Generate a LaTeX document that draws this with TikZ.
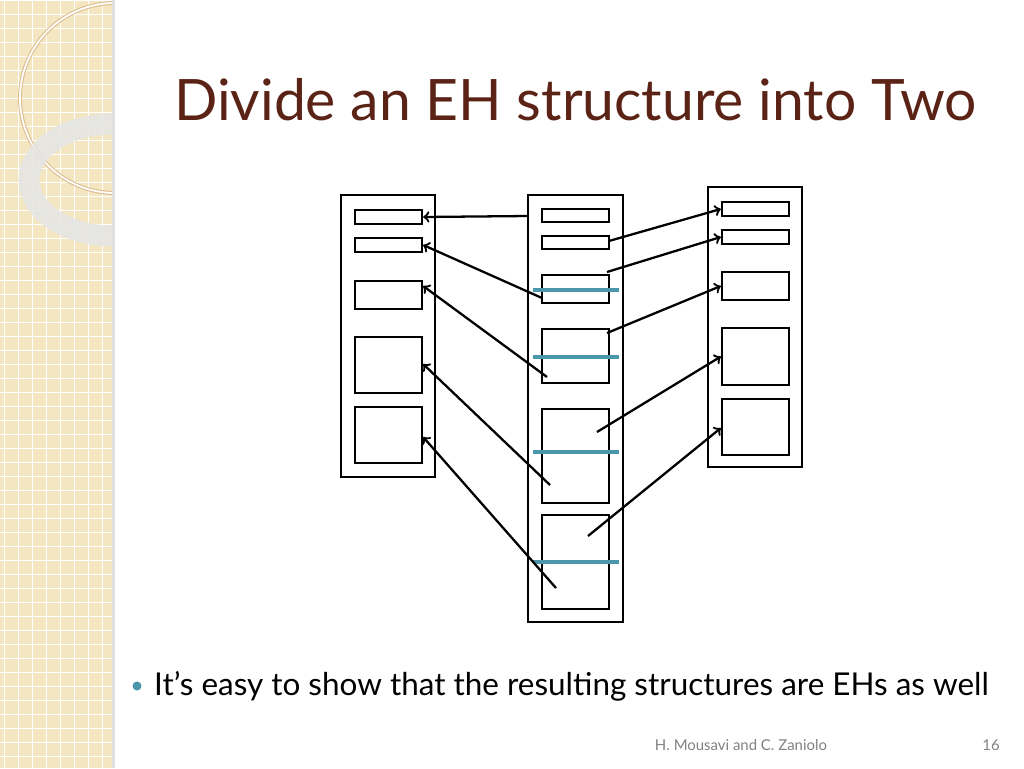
\documentclass[tikz,border=0pt]{standalone}
\usepackage{fontspec}
\setmainfont{Lato}
\usetikzlibrary{calc}
\definecolor{titlebrown}{HTML}{5B2316}
\definecolor{beige}{HTML}{F3E6C0}
\definecolor{teal}{HTML}{4A96AA}
\tikzset{
  outerbox/.style={draw, line width=1.5pt, inner sep=0pt},
  bucket/.style={draw, line width=1.3pt, inner sep=0pt},
  link/.style={->, line width=1.3pt, >=to},
  split/.style={teal, line width=1.8pt}
}
% box from pixel corners
\newcommand{\pbox}[6]{\node[#1, minimum width={(#5-#3)*0.02cm}, minimum height={(#6-#4)*0.02cm}] (#2) at ({(#3+#5)/2},{(#4+#6)/2}) {};}
\begin{document}
\begin{tikzpicture}[x=0.02cm, y=-0.02cm]
    \useasboundingbox (0,0) rectangle (1024,768);
    % background strip
    \fill[beige] (0,0) rectangle (113,768);
    \foreach \k in {0,...,8} \draw[white, line width=0.5pt] (\k*14+4,0) -- (\k*14+4,768);
    \foreach \k in {0,...,55} \draw[white, line width=0.5pt] (0,\k*14) -- (113,\k*14);
    \begin{scope}
      \clip (0,0) rectangle (113,768);
      \draw[brown!40!beige, line width=2.2pt] (115,98) circle (95);
      \draw[white, line width=1pt] (115,98) circle (95);
      \draw[gray!20, line width=12pt, opacity=0.85] (113,180) ellipse (84 and 56);
    \end{scope}
    \fill[gray!25] (112,0) rectangle (115,768);
    % title
    \node[anchor=west, text=titlebrown, font=\fontsize{32.5}{38}\selectfont] (title) at (168,100) {Divide an EH structure into Two};
    % left structure
    \pbox{outerbox}{L}{341}{195}{435}{477}
    \pbox{bucket}{L1}{355}{210}{422}{224}
    \pbox{bucket}{L2}{355}{238}{422}{252}
    \pbox{bucket}{L3}{355}{281}{422}{309}
    \pbox{bucket}{L4}{355}{337}{422}{393}
    \pbox{bucket}{L5}{355}{407}{422}{463}
    % middle structure
    \pbox{outerbox}{M}{528}{195}{623}{622}
    \pbox{bucket}{M1}{542}{209}{609}{222}
    \pbox{bucket}{M2}{542}{236}{609}{249}
    \pbox{bucket}{M3}{542}{275}{609}{303}
    \pbox{bucket}{M4}{542}{329}{609}{383}
    \pbox{bucket}{M5}{542}{409}{609}{503}
    \pbox{bucket}{M6}{542}{515}{609}{609}
    % right structure
    \pbox{outerbox}{R}{708}{187}{802}{467}
    \pbox{bucket}{R1}{722}{202}{789}{216}
    \pbox{bucket}{R2}{722}{230}{789}{244}
    \pbox{bucket}{R3}{722}{272}{789}{300}
    \pbox{bucket}{R4}{722}{328}{789}{385}
    \pbox{bucket}{R5}{722}{399}{789}{455}
    % split lines
    \foreach \y in {290,357,452,562} \draw[split] (533,\y) -- (619,\y);
    % link starts
    \coordinate (a1) at (528,216);
    \coordinate (a2) at (542,298);
    \coordinate (a3) at (547,377);
    \coordinate (a4) at (550,485);
    \coordinate (a5) at (556,588);
    \coordinate (b1) at (609,241);
    \coordinate (b2) at (607,272);
    \coordinate (b3) at (607,333);
    \coordinate (b4) at (597,432);
    \coordinate (b5) at (588,536);
    % links
    \draw[link] (a1) -- (L1.east);
    \draw[link] (a2) -- (L2.east);
    \draw[link] (a3) -- ($(L3.east)+(0,-9)$);
    \draw[link] (a4) -- ($(L4.east)+(0,-1)$);
    \draw[link] (a5) -- ($(L5.east)+(0,2)$);
    \draw[link] (b1) -- (R1.west);
    \draw[link] (b2) -- (R2.west);
    \draw[link] (b3) -- (R3.west);
    \draw[link] (b4) -- (R4.west);
    \draw[link] (b5) -- ($(R5.west)+(0,1)$);
    % bullet and footer
    \fill[teal] (137,686) circle (4.5);
    \node[anchor=west, font=\fontsize{17.9}{22}\selectfont] (bullet) at (148,686) {It’s easy to show that the resulting structures are EHs as well};
    \node[text=gray, font=\fontsize{8.5}{10}\selectfont] (author) at (741,745) {H. Mousavi and C. Zaniolo};
    \node[text=gray, font=\fontsize{8.5}{10}\selectfont] (page) at (991,745) {16};
\end{tikzpicture}
\end{document}
